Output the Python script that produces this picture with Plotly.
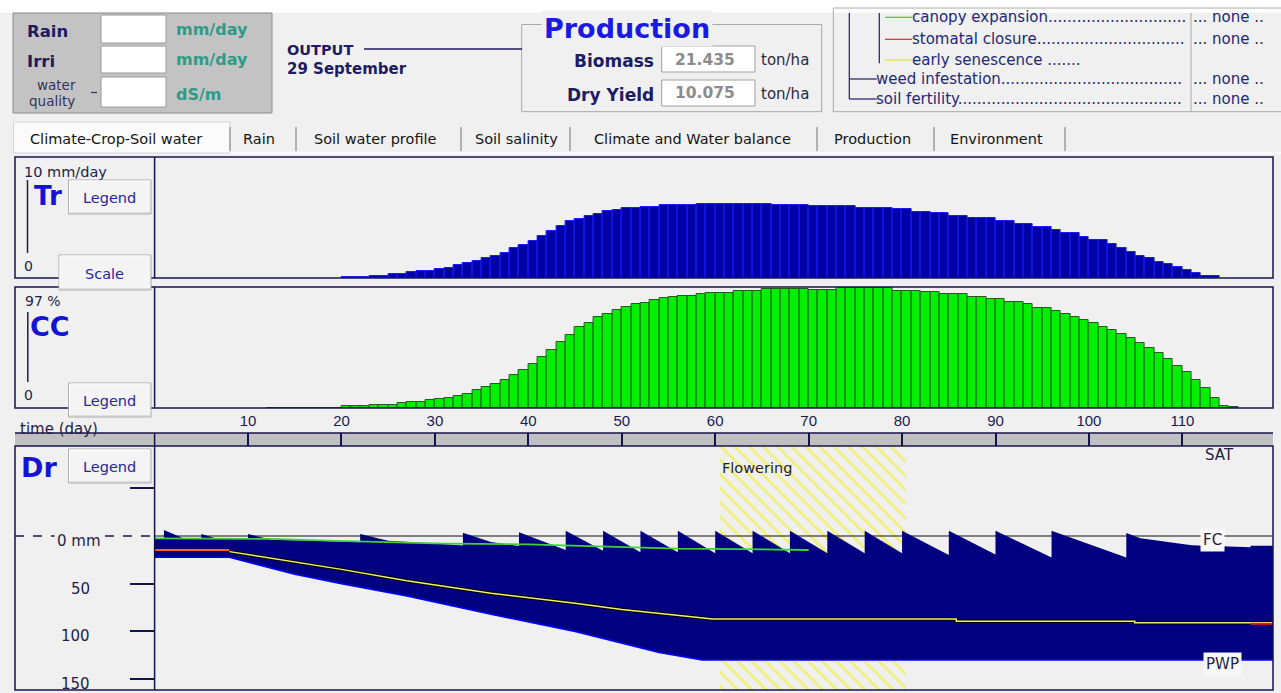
import plotly.graph_objects as go

W, H = 1281, 693

# ---------------- data ----------------
# Transpiration Tr (mm/day), one value per day starting at day 20
tr_first_day = 20
tr_mm_day = [0.06, 0.06, 0.06, 0.2, 0.2, 0.33, 0.33, 0.47, 0.58, 0.58,
             0.72, 0.85, 1.05, 1.21, 1.43, 1.63, 1.84, 2.09, 2.45, 2.73,
             3.06, 3.5, 3.88, 4.32, 4.71, 4.88, 5.12, 5.29, 5.51, 5.62,
             5.76, 5.76, 5.88, 5.88, 6.0, 6.0, 6.0, 6.0, 6.12, 6.12,
             6.12, 6.12, 6.12, 6.12, 6.12, 6.12, 6.03, 6.03, 6.03, 6.03,
             5.92, 5.92, 5.92, 5.92, 5.92, 5.81, 5.81, 5.81, 5.81, 5.68,
             5.68, 5.48, 5.48, 5.35, 5.35, 5.15, 5.15, 4.93, 4.93, 4.93,
             4.71, 4.71, 4.46, 4.46, 4.19, 4.19, 3.97, 3.69, 3.69, 3.42,
             3.14, 3.14, 2.81, 2.45, 2.17, 1.82, 1.63, 1.35, 1.16, 0.88,
             0.66, 0.44, 0.19, 0.19]

# Canopy cover CC (%), one value per day starting at day 12
cc_first_day = 12
cc_pct = [0.3, 0.3, 0.3, 0.3, 0.3, 0.3, 0.3, 0.3,
          1.6, 1.6, 1.6, 2.7, 2.7, 2.7, 3.8, 4.8, 4.8, 6.1,
          7.2, 8.3, 9.6, 11.5, 14.2, 16.5, 19.0, 22.4, 26.5, 30.2,
          35.0, 40.6, 46.2, 53.1, 58.5, 64.7, 68.4, 72.7, 75.1, 78.6,
          81.2, 83.4, 83.9, 86.6, 88.4, 89.2, 90.0, 90.0, 91.1, 92.2,
          92.2, 92.2, 93.8, 93.8, 93.8, 95.6, 95.6, 95.6, 95.6, 95.6,
          94.6, 94.6, 94.6, 96.2, 96.2, 96.2, 96.2, 96.2, 96.2, 94.0,
          94.0, 94.0, 92.7, 92.7, 91.1, 91.1, 91.1, 89.2, 89.2, 87.4,
          87.4, 85.2, 85.2, 83.1, 80.4, 80.4, 77.7, 75.1, 73.2, 70.5,
          67.9, 65.2, 62.5, 59.0, 55.9, 51.9, 48.3, 43.8, 39.3, 33.7,
          28.6, 22.4, 16.3, 8.3, 1.6, 0.8]

# Root-zone depletion Dr (mm below field capacity), top of the blue band
dr_day = [0, 1, 1, 3, 5, 5, 6.5, 10, 10, 12.5, 17, 22, 22, 25, 30, 33, 33, 36, 39, 39,
          44, 44, 48, 48, 52, 52, 56, 56, 60, 60, 64, 64, 68, 68, 72, 72, 76, 76, 80, 80,
          85, 85, 90, 90, 96, 96, 104, 104, 105.5, 111, 117.3, 117.3, 119.7]
dr_mm = [2.4, 2.4, -6.3, 2.0, 2.5, -2.1, 2.5, 3.0, -2.1, 4.0, 5.0, 6.5, -2.1, 5.0, 8.0, 10.0, -3.5, 6.3, 10.5, -3.8,
         14.7, -5.6, 15.4, -5.6, 17.1, -5.6, 17.1, -5.6, 18.2, -5.6, 18.2, -5.6, 18.2, -5.6, 18.2, -5.6, 18.2, -5.6, 18.2, -5.6,
         20.0, -5.6, 19.5, -5.6, 22.5, -5.6, 22.5, -3.1, 2.3, 9.7, 11.7, 10.2, 10.2]

# Total available water (PWP depth in the root zone, mm)
taw_day = [0, 8, 15, 20, 27, 36, 45, 50, 54, 58.6, 119.7]
taw_mm = [22.3, 22.3, 40, 50, 63, 82, 100, 112, 122, 130, 130]

# Thresholds (mm)
exp_day = [0, 12.4, 18.5, 26.5, 31, 40, 48, 56, 60, 70]          # canopy expansion (green)
exp_mm = [2.4, 3.0, 4.8, 6.5, 8.0, 8.7, 11.2, 13.3, 13.5, 14.7]
sen_day = [8, 15, 20, 27, 36, 45, 50, 57.7, 59.7, 85.8, 85.8, 104.9, 104.9, 119.7]   # early senescence (yellow)
sen_mm = [16.4, 27, 35, 47, 60, 70.6, 77, 85, 87, 87, 89.4, 89.4, 90.8, 90.8]
sto_day_a = [0, 8]               # stomatal closure (red), early
sto_mm_a = [14.7, 14.7]
sto_day_b = [117.3, 119.7]       # stomatal closure (red), late
sto_mm_b = [92, 92]

flowering = [60.5, 80.4]
fc_mm = 0
time_ticks = [10, 20, 30, 40, 50, 60, 70, 80, 90, 100, 110]
dr_ticks = [-50, 50, 100, 150]
day_range = [0, 119.7]
tr_range = [0, 10]
cc_range = [0, 97]
dr_range = [161.4, -94.3]

# ---------------- helpers for the window chrome ----------------
def X(px):
    return px / W

def Y(py):
    return 1 - py / H

NAVY = '#14144c'
TXT = '#1c1c64'
BIG = '#1414d2'
BG = '#f0f0f0'
shapes = []
annots = []

def rect(x0, y0, x1, y1, fill=None, line=None, lw=1, layer='above'):
    shapes.append(dict(type='rect', xref='paper', yref='paper', x0=X(x0), x1=X(x1),
                       y0=Y(y1), y1=Y(y0), fillcolor=fill or 'rgba(0,0,0,0)',
                       line=dict(color=line or 'rgba(0,0,0,0)', width=lw if line else 0),
                       layer=layer))

def seg(x0, y0, x1, y1, color, lw=1, layer='above', dash='solid'):
    shapes.append(dict(type='line', xref='paper', yref='paper', x0=X(x0), x1=X(x1),
                       y0=Y(y0), y1=Y(y1), line=dict(color=color, width=lw, dash=dash),
                       layer=layer))

def txt(x, y, s, size=14, color=TXT, family='DejaVu Sans', xanchor='left', bold=False, bg=None, pad=0):
    a = dict(xref='paper', yref='paper', x=X(x), y=Y(y), text=('<b>%s</b>' % s) if bold else s,
             showarrow=False, xanchor=xanchor, yanchor='middle',
             font=dict(size=size, color=color, family=family), borderpad=pad)
    if bg:
        a['bgcolor'] = bg
    annots.append(a)

def button(x0, y0, x1, y1, label):
    rect(x0, y0, x1, y1, fill='#f4f4f4', line='#a9a9a9', lw=1)
    seg(x0 + 1, y0 + 1, x1 - 1, y0 + 1, '#ffffff', 1)
    seg(x0 + 1, y0 + 1, x0 + 1, y1 - 1, '#ffffff', 1)
    seg(x0 + 1, y1 - 1, x1 - 1, y1 - 1, '#c8c8c8', 1)
    txt((x0 + x1) / 2, (y0 + y1) / 2 + 1, label, 14.5, '#2626a0', xanchor='center')

# top strip
rect(0, 0, W, 12.7, fill='#ffffff', layer='below')

# input panel
rect(13, 13, 272, 113, fill='#c3c3c3', line='#8c8c8c', layer='below')
for y0, y1 in [(15, 43), (46, 73), (77, 107)]:
    rect(101, y0, 166, y1, fill='#ffffff', line='#9a9a9a', layer='below')
txt(26, 31, 'Rain', 16.5, TXT, bold=True)
txt(26, 61.5, 'Irri', 16.5, TXT, bold=True)
txt(56, 85, 'water', 13.5, '#34345a', xanchor='center')
txt(52, 101.5, 'quality', 13.5, '#34345a', xanchor='center')
seg(91, 92.5, 97, 92.5, '#34345a', 1.2)
TEAL = '#2e9a88'
txt(175, 30, 'mm/day', 16, TEAL, bold=True)
txt(175, 60, 'mm/day', 16, TEAL, bold=True)
txt(175, 94, 'dS/m', 16, TEAL, bold=True)

# output date
txt(286, 50, 'OUTPUT', 14.5, TXT, bold=True)
seg(364, 49, 522, 49, TXT, 1.5)
txt(286, 68.5, '29 September', 15, TXT, bold=True)

# production box
rect(521.7, 24.5, 821.7, 111.7, line='#a8a8a8', layer='below')
txt(627, 28.5, 'Production', 27, '#1a1ae0', xanchor='center', bold=True, bg=BG, pad=2)
txt(655, 61, 'Biomass', 17, TXT, xanchor='right', bold=True)
txt(655, 94.5, 'Dry Yield', 17, TXT, xanchor='right', bold=True)
rect(661.7, 46, 755, 72, fill='#ffffff', line='#a0a0a0', layer='below')
rect(661.7, 80, 755, 106, fill='#ffffff', line='#a0a0a0', layer='below')
txt(705, 59.5, '21.435', 15.5, '#8c8c8c', xanchor='center', bold=True)
txt(705, 93.5, '10.075', 15.5, '#8c8c8c', xanchor='center', bold=True)
txt(760, 60, 'ton/ha', 15, '#2a2a44')
txt(760, 94, 'ton/ha', 15, '#2a2a44')

# stress legend panel
rect(833.3, 8, 1300, 111.7, line='#a8a8a8', layer='below')
seg(1191, 13, 1191, 111.7, '#a8a8a8', 1)
seg(849.3, 13, 849.3, 99, TXT, 1.2)
seg(849.3, 79, 876.7, 79, TXT, 1.2)
seg(849.3, 99, 876.7, 99, TXT, 1.2)
seg(879.3, 13, 879.3, 63.3, TXT, 1.2)
seg(885, 17.3, 912, 17.3, '#3ccf3c', 1.2)
seg(885, 39.3, 912, 39.3, '#c83232', 1.2)
seg(885, 60, 912, 60, '#e6e632', 1.2)
LG = '#1e2878'
txt(911, 17.3, 'canopy expansion' + '.' * 29, 15, LG)
txt(911, 39.3, 'stomatal closure' + '.' * 31, 15, LG)
txt(911, 60, 'early senescence .......', 15, LG)
txt(875, 79, 'weed infestation' + '.' * 38, 15, LG)
txt(875, 99, 'soil fertility' + '.' * 47, 15, LG)
for yy in [17.3, 39.3, 79, 99]:
    txt(1192, yy, '... none ..', 15, LG)

# tabs
rect(13.5, 122, 230, 153, fill='#fbfbfb', line='#d4d4d4', layer='below')
for sx in [230, 296, 461, 570, 817, 934, 1065]:
    seg(sx, 127, sx, 151, '#9c9c9c', 1.5)
seg(230, 153, W, 153, '#ffffff', 1.5)
for cx, lab in [(116, 'Climate-Crop-Soil water'), (259, 'Rain'), (375, 'Soil water profile'),
                (516, 'Soil salinity'), (692, 'Climate and Water balance'),
                (872, 'Production'), (996, 'Environment')]:
    txt(cx, 139, lab, 14.5, '#141414', xanchor='center')

# panels
for (y0, y1) in [(157, 278), (287, 408), (446, 690)]:
    rect(15, y0, 1273, y1, line=NAVY, lw=1.5)
    seg(154.6, y0, 154.6, y1, NAVY, 1.5)
rect(15, 433, 1273, 446, fill='#c0c0c0', layer='below')
seg(15, 433, 1273, 433, NAVY, 1.5)
seg(154.6, 433, 154.6, 446, NAVY, 1.5)

# Tr box
txt(23, 171.5, '10 mm/day', 14.5, '#1e1e46')
seg(27.5, 180, 27.5, 253, '#1e1e46', 1.5)
txt(33, 196, 'Tr', 26, BIG, bold=True)
txt(23, 266, '0', 14, '#1e1e46')
button(68.6, 180, 151, 214, 'Legend')
button(59, 255, 151, 290, 'Scale')

# CC box
txt(24, 301, '97 %', 14, '#1e1e46')
seg(27.8, 312, 27.8, 382, '#1e1e46', 1.5)
txt(29, 326, 'CC', 27, BIG, bold=True)
txt(23, 395, '0', 14, '#1e1e46')
button(68.6, 383, 151, 417, 'Legend')

txt(19, 429, 'time (day)', 15, '#1e1e46')

# Dr box
txt(20, 467, 'Dr', 27, BIG, bold=True)
button(68.6, 449, 151, 483, 'Legend')
shapes.append(dict(type='line', xref='paper', yref='y3', x0=X(15), x1=X(154.6), y0=fc_mm, y1=fc_mm,
                   line=dict(color=NAVY, width=1.5, dash='dash'), layer='above'))
annots.append(dict(xref='paper', yref='y3', x=X(79), y=fc_mm, yshift=-5, text='0 mm', showarrow=False,
                   xanchor='center', yanchor='middle', bgcolor=BG, borderpad=2,
                   font=dict(size=15, color='#1e1e46', family='DejaVu Sans')))
for v in dr_ticks[1:]:
    annots.append(dict(xref='paper', yref='y3', x=X(92), y=v, yshift=-5, text=str(v), showarrow=False,
                       xanchor='right', yanchor='middle',
                       font=dict(size=15, color='#1e1e46', family='DejaVu Sans')))
annots.append(dict(xref='paper', yref='y3', x=X(1212), y=fc_mm, yshift=-4, text='FC', showarrow=False,
                   xanchor='center', yanchor='middle', bgcolor='#f7f7f7', borderpad=2,
                   font=dict(size=15, color='#1e1e46', family='DejaVu Sans')))
annots.append(dict(xref='paper', yref='y3', x=X(1222), y=max(taw_mm), yshift=-4, text='PWP', showarrow=False,
                   xanchor='center', yanchor='middle', bgcolor='#f7f7f7', borderpad=2,
                   font=dict(size=15, color='#1e1e46', family='DejaVu Sans')))
txt(1219, 455, 'SAT', 15, '#1e1e46', xanchor='center')
annots.append(dict(xref='x4', yref='paper', x=flowering[0], y=Y(468), text='Flowering', showarrow=False,
                   xanchor='left', yanchor='middle',
                   font=dict(size=14.5, color='#1e1e30', family='DejaVu Sans')))

# ---------------- traces ----------------
fig = go.Figure()

tr_x = [tr_first_day + i + 0.5 for i in range(len(tr_mm_day))]
fig.add_trace(go.Bar(x=tr_x, y=tr_mm_day, width=1, xaxis='x', yaxis='y',
                     marker=dict(color='#0000a6', line=dict(color='#1a1aff', width=1)),
                     hoverinfo='skip', showlegend=False))

cc_x = [cc_first_day + i + 0.5 for i in range(len(cc_pct))]
fig.add_trace(go.Bar(x=cc_x, y=cc_pct, width=1, xaxis='x2', yaxis='y2',
                     marker=dict(color='#00f000', line=dict(color='#245a24', width=1)),
                     hoverinfo='skip', showlegend=False))

# time axis carrier
fig.add_trace(go.Scatter(x=[day_range[0]], y=[0.5], xaxis='x3', yaxis='y4', mode='markers',
                         marker=dict(opacity=0), hoverinfo='skip', showlegend=False))

# flowering hatch
fig.add_trace(go.Scatter(x=[flowering[0], flowering[1], flowering[1], flowering[0], flowering[0]],
                         y=[dr_range[1], dr_range[1], dr_range[0], dr_range[0], dr_range[1]],
                         xaxis='x4', yaxis='y3', mode='lines', fill='toself',
                         fillcolor='rgba(0,0,0,0)', line=dict(width=0),
                         fillpattern=dict(shape='\\', fgcolor='#f0f000', bgcolor='rgba(0,0,0,0)',
                                          size=10, solidity=0.27),
                         hoverinfo='skip', showlegend=False))

# FC line
fig.add_trace(go.Scatter(x=day_range, y=[fc_mm, fc_mm], xaxis='x4', yaxis='y3', mode='lines',
                         line=dict(color='#101010', width=1.2), hoverinfo='skip', showlegend=False))

# depletion band
fig.add_trace(go.Scatter(x=dr_day + taw_day[::-1], y=dr_mm + taw_mm[::-1], xaxis='x4', yaxis='y3',
                         mode='lines', fill='toself', fillcolor='#000080', line=dict(width=0),
                         hoverinfo='skip', showlegend=False))
fig.add_trace(go.Scatter(x=taw_day, y=taw_mm, xaxis='x4', yaxis='y3', mode='lines',
                         line=dict(color='#0000ff', width=1.5), hoverinfo='skip', showlegend=False))

# thresholds
fig.add_trace(go.Scatter(x=exp_day, y=exp_mm, xaxis='x4', yaxis='y3', mode='lines',
                         line=dict(color='#3cd23c', width=1.8), hoverinfo='skip', showlegend=False))
fig.add_trace(go.Scatter(x=sen_day, y=sen_mm, xaxis='x4', yaxis='y3', mode='lines',
                         line=dict(color='#000000', width=3.5), hoverinfo='skip', showlegend=False))
fig.add_trace(go.Scatter(x=sen_day, y=sen_mm, xaxis='x4', yaxis='y3', mode='lines',
                         line=dict(color='#f4f06a', width=1.5), hoverinfo='skip', showlegend=False))
fig.add_trace(go.Scatter(x=sto_day_a, y=sto_mm_a, xaxis='x4', yaxis='y3', mode='lines',
                         line=dict(color='#ff6420', width=2), hoverinfo='skip', showlegend=False))
fig.add_trace(go.Scatter(x=sto_day_b, y=sto_mm_b, xaxis='x4', yaxis='y3', mode='lines',
                         line=dict(color='#e02020', width=2), hoverinfo='skip', showlegend=False))

x_dom = [X(154.6), X(1273)]
hidden = dict(showgrid=False, zeroline=False, showticklabels=False, ticks='', showline=False)
fig.update_layout(
    width=W, height=H, margin=dict(l=0, r=0, t=0, b=0, pad=0),
    paper_bgcolor=BG, plot_bgcolor='rgba(0,0,0,0)',
    bargap=0, showlegend=False, hovermode=False,
    xaxis=dict(domain=x_dom, range=day_range, anchor='y', **hidden),
    xaxis2=dict(domain=x_dom, range=day_range, anchor='y2', **hidden),
    xaxis3=dict(domain=x_dom, range=day_range, anchor='y4', side='top', ticks='inside', ticklen=13,
                tickwidth=1.5, tickcolor=NAVY, tickvals=time_ticks, ticktext=[str(t) for t in time_ticks],
                tickfont=dict(size=15, color='#1a1a50', family='Liberation Sans'),
                showgrid=False, zeroline=False, showline=False, ticklabelstandoff=3),
    xaxis4=dict(domain=x_dom, range=day_range, anchor='y3', **hidden),
    yaxis=dict(domain=[Y(278), Y(157)], range=tr_range, anchor='x', **hidden),
    yaxis2=dict(domain=[Y(408), Y(287)], range=cc_range, anchor='x2', **hidden),
    yaxis3=dict(domain=[Y(690), Y(446)], range=dr_range, anchor='x4', ticks='outside', ticklen=24,
                tickwidth=2, tickcolor=NAVY, tickvals=dr_ticks, showticklabels=False,
                showgrid=False, zeroline=False, showline=False),
    yaxis4=dict(domain=[Y(446), Y(433)], range=[0, 1], anchor='x3', **hidden),
    shapes=shapes, annotations=annots,
    font=dict(family='DejaVu Sans'),
)

fig.write_html('out.html', config={'displayModeBar': False},
               post_script="document.body.style.margin='0';document.body.style.overflow='hidden';")
